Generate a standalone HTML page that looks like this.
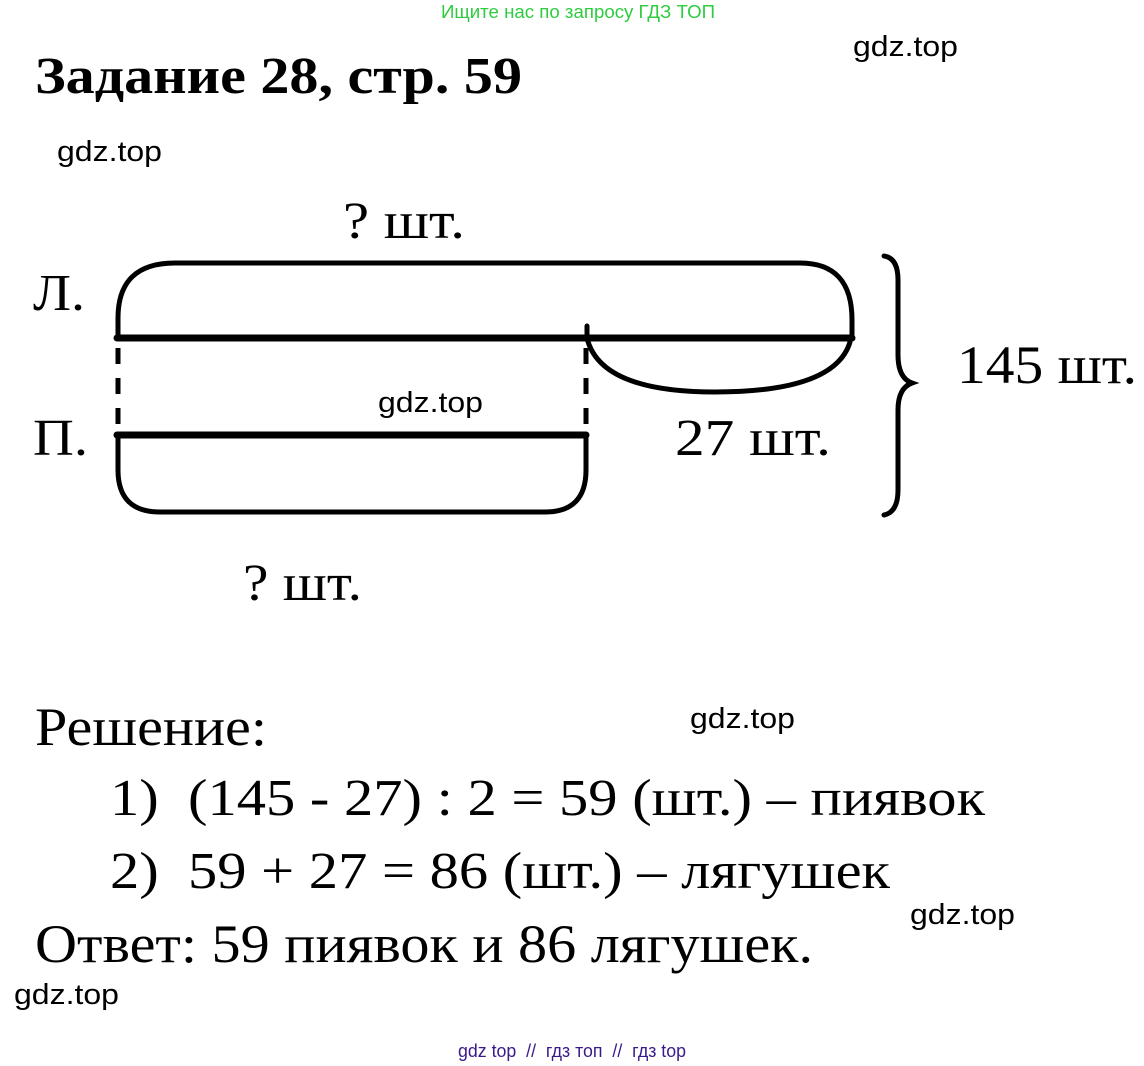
<!DOCTYPE html>
<html><head><meta charset="utf-8"><style>
html,body{margin:0;padding:0;background:#fff;}
svg{display:block}
.s{font-family:"Liberation Serif",serif;fill:#000}
.w{font-family:"Liberation Sans",sans-serif;fill:#000;font-size:29px}
</style></head><body>
<svg width="1144" height="1066" viewBox="0 0 1144 1066">
<text x="441" y="18" textLength="274" lengthAdjust="spacingAndGlyphs" font-family="Liberation Sans,sans-serif" font-size="18" fill="#2ecc40">Ищите нас по запросу ГДЗ ТОП</text>
<text x="35" y="93" textLength="487" lengthAdjust="spacingAndGlyphs" class="s" font-size="52" font-weight="bold">Задание 28, стр. 59</text>
<text x="853" y="56" textLength="105" lengthAdjust="spacingAndGlyphs" class="w">gdz.top</text>
<text x="57" y="161" textLength="105" lengthAdjust="spacingAndGlyphs" class="w">gdz.top</text>
<g fill="none" stroke="#000" stroke-width="5" stroke-linecap="round">
<path d="M118,338 V318 Q118,263 175,263 H800 Q852,263 852,320 V338"/>
<line x1="117" y1="338" x2="852" y2="338" stroke-width="7"/>
<path d="M587,326 V338 Q600,392 715,392 Q835,392 850,342"/>
<line x1="118" y1="348" x2="118" y2="428" stroke-dasharray="16,14" stroke-linecap="butt"/>
<line x1="586" y1="348" x2="586" y2="428" stroke-dasharray="16,14" stroke-linecap="butt"/>
<line x1="117" y1="435" x2="586" y2="435" stroke-width="7"/>
<path d="M118,435 V470 Q118,512 160,512 H545 Q586,512 586,470 V435"/>
<path d="M884,256 Q898,258 898,280 V355 Q898,378 912,383 Q898,388 898,410 V490 Q898,512 884,515"/>
</g>
<text x="343" y="238" textLength="122" lengthAdjust="spacingAndGlyphs" class="s" font-size="52">? шт.</text>
<text x="33" y="310" textLength="52" lengthAdjust="spacingAndGlyphs" class="s" font-size="52">Л.</text>
<text x="33" y="455" textLength="55" lengthAdjust="spacingAndGlyphs" class="s" font-size="52">П.</text>
<text x="957" y="383" textLength="180" lengthAdjust="spacingAndGlyphs" class="s" font-size="54">145 шт.</text>
<text x="675" y="455" textLength="156" lengthAdjust="spacingAndGlyphs" class="s" font-size="52">27 шт.</text>
<text x="378" y="412" textLength="105" lengthAdjust="spacingAndGlyphs" class="w">gdz.top</text>
<text x="243" y="600" textLength="119" lengthAdjust="spacingAndGlyphs" class="s" font-size="52">? шт.</text>
<text x="35" y="745" textLength="232" lengthAdjust="spacingAndGlyphs" class="s" font-size="54">Решение:</text>
<text x="690" y="728" textLength="105" lengthAdjust="spacingAndGlyphs" class="w">gdz.top</text>
<text x="110" y="815" textLength="875" lengthAdjust="spacingAndGlyphs" class="s" font-size="52" xml:space="preserve">1)  (145 - 27) : 2 = 59 (шт.) – пиявок</text>
<text x="110" y="888" textLength="780" lengthAdjust="spacingAndGlyphs" class="s" font-size="52" xml:space="preserve">2)  59 + 27 = 86 (шт.) – лягушек</text>
<text x="910" y="924" textLength="105" lengthAdjust="spacingAndGlyphs" class="w">gdz.top</text>
<text x="35" y="962" textLength="778" lengthAdjust="spacingAndGlyphs" class="s" font-size="54">Ответ: 59 пиявок и 86 лягушек.</text>
<text x="14" y="1004" textLength="105" lengthAdjust="spacingAndGlyphs" class="w">gdz.top</text>
<text x="458" y="1057" textLength="228" lengthAdjust="spacingAndGlyphs" font-family="Liberation Sans,sans-serif" font-size="18" fill="#3a1a8a" xml:space="preserve">gdz top  //  гдз топ  //  гдз top</text>
</svg>
</body></html>
